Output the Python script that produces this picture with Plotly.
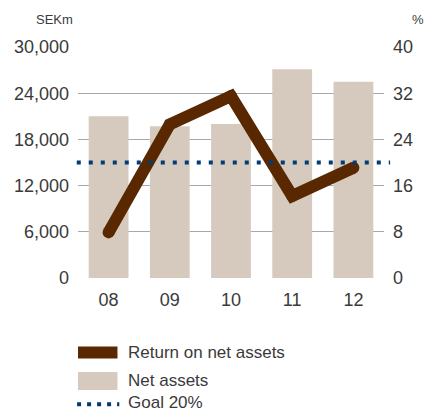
import plotly.graph_objects as go

# Fiscal years and figures
years = ["08", "09", "10", "11", "12"]
net_assets = [21000, 19700, 20000, 27100, 25500]      # SEKm, left axis
return_on_net_assets = [7.9, 26.6, 31.5, 14.2, 19.1]  # %, right axis
goal_pct = 20

left_ticks = [0, 6000, 12000, 18000, 24000, 30000]
left_tick_text = ["0", "6,000", "12,000", "18,000", "24,000", "30,000"]
right_ticks = [0, 8, 16, 24, 32, 40]

BAR_COLOR = "#d6cabe"
LINE_COLOR = "#592800"
GOAL_COLOR = "#003b73"
TEXT_COLOR = "#3a3a3a"
FONT = "Liberation Sans"

fig = go.Figure()

fig.add_trace(go.Bar(
    x=years, y=net_assets, name="Net assets",
    marker=dict(color=BAR_COLOR, line=dict(width=0)),
    showlegend=False,
))

fig.add_trace(go.Scatter(
    x=years, y=return_on_net_assets, name="Return on net assets",
    yaxis="y2", mode="lines+markers",
    line=dict(color=LINE_COLOR, width=12),
    marker=dict(color=LINE_COLOR, size=12, line=dict(width=0)),
    showlegend=False,
))

# Goal line across the full plot width
fig.add_shape(
    type="line", xref="paper", yref="y2",
    x0=-0.004, x1=1.02, y0=goal_pct, y1=goal_pct,
    line=dict(color=GOAL_COLOR, width=4, dash="4px,8px"),
)

# Legend drawn below the plot
fig.add_shape(type="rect", xref="paper", yref="paper",
              x0=0.0, x1=0.129, y0=-0.296, y1=-0.348,
              fillcolor=LINE_COLOR, line=dict(width=0))
fig.add_shape(type="rect", xref="paper", yref="paper",
              x0=0.0, x1=0.129, y0=-0.407, y1=-0.485,
              fillcolor=BAR_COLOR, line=dict(width=0))
fig.add_shape(type="line", xref="paper", yref="paper",
              x0=-0.003, x1=0.135, y0=-0.547, y1=-0.547,
              line=dict(color=GOAL_COLOR, width=4, dash="4px,6px"))

legend_items = [("Return on net assets", -0.322), ("Net assets", -0.445), ("Goal 20%", -0.540)]
for label, ypos in legend_items:
    fig.add_annotation(
        text=label, xref="paper", yref="paper", x=0.157, y=ypos,
        xanchor="left", yanchor="middle", showarrow=False,
        font=dict(family=FONT, size=17, color=TEXT_COLOR),
    )

# Axis unit captions
fig.add_annotation(text="SEKm", xref="paper", yref="paper", x=-0.145, y=1.118,
                   xanchor="left", yanchor="middle", showarrow=False,
                   font=dict(family=FONT, size=13, color=TEXT_COLOR))
fig.add_annotation(text="%", xref="paper", yref="paper", x=1.085, y=1.118,
                   xanchor="left", yanchor="middle", showarrow=False,
                   font=dict(family=FONT, size=13, color=TEXT_COLOR))

fig.update_layout(
    width=425, height=413,
    margin=dict(l=78, r=30, t=47, b=135),
    paper_bgcolor="white", plot_bgcolor="white",
    bargap=0.35,
    font=dict(family=FONT, size=18, color=TEXT_COLOR),
    xaxis=dict(
        showgrid=False, showline=False, zeroline=False,
        ticks="", ticklabelstandoff=9,
        tickfont=dict(size=18),
    ),
    yaxis=dict(
        range=[0, 30000], tickvals=left_ticks, ticktext=left_tick_text,
        showgrid=True, gridcolor="#a8a8a8", gridwidth=1,
        zeroline=True, zerolinecolor="rgba(0,0,0,0)",
        showline=False, ticks="", ticklabelstandoff=8,
        tickfont=dict(size=18),
    ),
    yaxis2=dict(
        range=[0, 40], tickvals=right_ticks,
        overlaying="y", side="right",
        showgrid=False, zeroline=False, showline=False,
        ticks="", ticklabelstandoff=8,
        tickfont=dict(size=18),
    ),
    showlegend=False,
)

fig.write_html("out.html")
